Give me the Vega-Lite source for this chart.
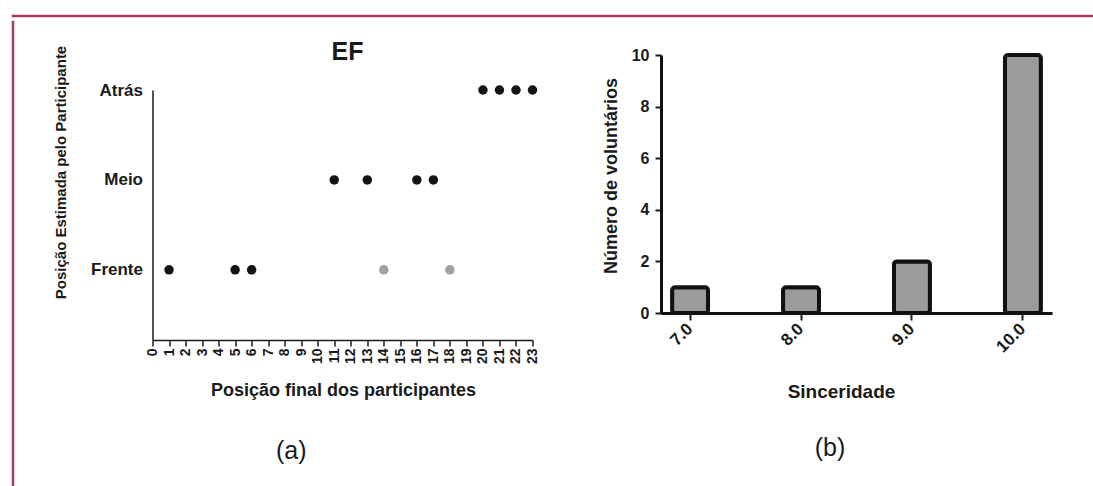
{
  "$schema": "https://vega.github.io/schema/vega-lite/v6.json",
  "background": "white",
  "padding": {"left": 9, "top": 12, "right": 0, "bottom": 0},
  "config": {
    "font": "Liberation Sans",
    "view": {"stroke": null},
    "axis": {"grid": false, "domainColor": "#1a1a1a", "tickColor": "#1a1a1a", "labelColor": "#1a1a1a", "titleColor": "#1a1a1a", "labelFontWeight": "bold", "titleFontWeight": "bold"},
    "title": {"color": "#1a1a1a"}
  },
  "spacing": 0,
  "vconcat": [
    {
      "width": 1081, "height": 0.01,
      "data": {"values": [{}]},
      "mark": {"type": "point", "opacity": 0},
      "encoding": {},
      "view": {"stroke": "#a43a5e", "strokeWidth": 2.5}
    },
    {
      "spacing": 35.5,
      "hconcat": [
        {
          "width": 0.01, "height": 468,
          "data": {"values": [{}]},
          "mark": {"type": "point", "opacity": 0},
          "encoding": {},
          "view": {"stroke": "#a43a5e", "strokeWidth": 2.5}
        },
        {
          "spacing": 61.5,
          "hconcat": [
            {
              "title": {"text": "(a)", "orient": "bottom", "anchor": "middle", "fontSize": 25, "fontWeight": "normal", "offset": 40, "dx": -5},
              "spacing": 0,
              "vconcat": [
                {"width": 1, "height": 18, "data": {"values": [{}]}, "mark": {"type": "point", "opacity": 0}, "encoding": {}},
                {
                  "width": 380, "height": 250,
                  "title": {"text": "EF", "fontSize": 25, "fontWeight": "bold", "offset": -20, "frame": "group", "anchor": "middle", "dx": 5},
                  "data": {"values": [
                    {"posicao_final": 1, "estimada": "Frente", "nivel": 1, "grupo": "preto"},
                    {"posicao_final": 5, "estimada": "Frente", "nivel": 1, "grupo": "preto"},
                    {"posicao_final": 6, "estimada": "Frente", "nivel": 1, "grupo": "preto"},
                    {"posicao_final": 14, "estimada": "Frente", "nivel": 1, "grupo": "cinza"},
                    {"posicao_final": 18, "estimada": "Frente", "nivel": 1, "grupo": "cinza"},
                    {"posicao_final": 11, "estimada": "Meio", "nivel": 2, "grupo": "preto"},
                    {"posicao_final": 13, "estimada": "Meio", "nivel": 2, "grupo": "preto"},
                    {"posicao_final": 16, "estimada": "Meio", "nivel": 2, "grupo": "preto"},
                    {"posicao_final": 17, "estimada": "Meio", "nivel": 2, "grupo": "preto"},
                    {"posicao_final": 20, "estimada": "Atrás", "nivel": 3, "grupo": "preto"},
                    {"posicao_final": 21, "estimada": "Atrás", "nivel": 3, "grupo": "preto"},
                    {"posicao_final": 22, "estimada": "Atrás", "nivel": 3, "grupo": "preto"},
                    {"posicao_final": 23, "estimada": "Atrás", "nivel": 3, "grupo": "preto"}
                  ]},
                  "mark": {"type": "circle", "size": 90, "opacity": 1},
                  "encoding": {
                    "x": {
                      "field": "posicao_final", "type": "quantitative",
                      "scale": {"domain": [0, 23], "nice": false, "zero": false},
                      "axis": {
                        "title": "Posição final dos participantes",
                        "values": [0,1,2,3,4,5,6,7,8,9,10,11,12,13,14,15,16,17,18,19,20,21,22,23],
                        "labelAngle": 270, "labelAlign": "right", "labelBaseline": "middle",
                        "labelFontSize": 14, "labelPadding": 2, "labelOverlap": false, "labelFlush": false,
                        "tickSize": 6, "tickWidth": 1.5, "domainWidth": 1.5,
                        "titleFontSize": 18, "titleX": 190.5, "titleY": 50, "titleBaseline": "middle", "titleAlign": "center"
                      }
                    },
                    "y": {
                      "field": "nivel", "type": "quantitative",
                      "scale": {"domain": [0.22, 3], "nice": false, "zero": false},
                      "axis": {
                        "title": "Posição Estimada pelo Participante",
                        "values": [1, 2, 3],
                        "labelExpr": "datum.value == 1 ? 'Frente' : datum.value == 2 ? 'Meio' : 'Atrás'",
                        "ticks": false, "labelPadding": 10, "labelFontSize": 17, "domainWidth": 1.5,
                        "titleFontSize": 15, "titleX": -92.5, "titleY": 82, "titleBaseline": "middle", "titleAlign": "center", "titleAngle": 270
                      }
                    },
                    "color": {
                      "field": "grupo", "type": "nominal",
                      "scale": {"domain": ["preto", "cinza"], "range": ["#141414", "#a0a0a3"]},
                      "legend": null
                    }
                  }
                }
              ]
            },
            {
              "title": {"text": "(b)", "orient": "bottom", "anchor": "middle", "fontSize": 25, "fontWeight": "normal", "offset": 35, "dx": 3},
              "spacing": 0,
              "vconcat": [
                {"width": 1, "height": 25, "data": {"values": [{}]}, "mark": {"type": "point", "opacity": 0}, "encoding": {}},
                {
                  "width": 391, "height": 258,
                  "data": {"values": [
                    {"sinceridade": "7.0", "voluntarios": 1},
                    {"sinceridade": "8.0", "voluntarios": 1},
                    {"sinceridade": "9.0", "voluntarios": 2},
                    {"sinceridade": "10.0", "voluntarios": 10}
                  ]},
                  "mark": {"type": "bar", "fill": "#9b9b9b", "stroke": "#111", "strokeWidth": 4, "cornerRadius": 3},
                  "encoding": {
                    "x": {
                      "field": "sinceridade", "type": "ordinal",
                      "scale": {"domain": ["7.0", "8.0", "9.0", "10.0"], "paddingInner": 0.676, "paddingOuter": 0.1},
                      "axis": {
                        "title": "Sinceridade",
                        "labelAngle": -45, "labelAlign": "right", "labelBaseline": "middle", "labelFontSize": 17, "labelPadding": 6,
                        "tickSize": 7, "tickWidth": 2, "domainWidth": 3, "domainColor": "#111",
                        "titleFontSize": 19, "titleX": 180, "titleY": 78, "titleBaseline": "middle", "titleAlign": "center"
                      }
                    },
                    "y": {
                      "field": "voluntarios", "type": "quantitative",
                      "scale": {"domain": [0, 10], "nice": false},
                      "axis": {
                        "title": "Número de voluntários",
                        "values": [0, 2, 4, 6, 8, 10],
                        "labelFontSize": 16, "labelPadding": 6,
                        "tickSize": 6, "tickWidth": 2, "domainWidth": 3, "domainColor": "#111",
                        "titleFontSize": 18, "titleX": -50, "titleY": 120.5, "titleBaseline": "middle", "titleAlign": "center", "titleAngle": 270
                      }
                    }
                  }
                }
              ]
            }
          ]
        }
      ]
    }
  ]
}
